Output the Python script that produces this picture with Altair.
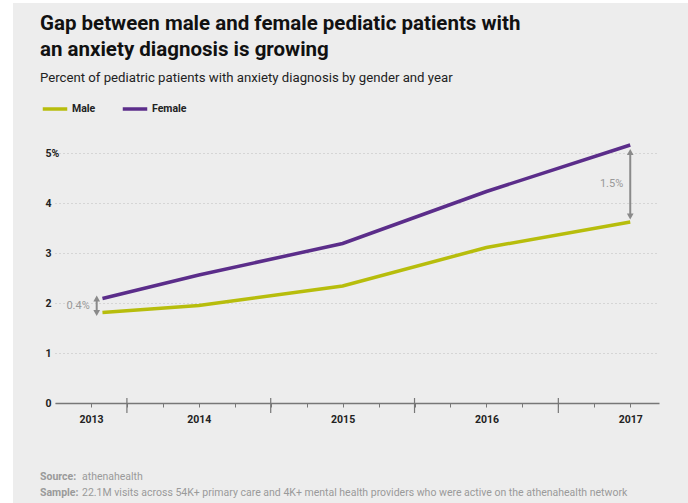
import altair as alt
import pandas as pd

# ---------------- data ----------------
years = ["2013", "2014", "2015", "2016", "2017"]
year_pos = [2013.33, 2014.0, 2015.0, 2016.0, 2017.0]   # position of each year's point on the timeline
male = [1.81, 1.95, 2.34, 3.11, 3.62]
female = [2.09, 2.56, 3.19, 4.23, 5.16]

label_pos = [2013.25, 2014.0, 2015.0, 2016.0, 2017.0]   # where the year labels sit
minor_ticks = [2013.25, 2013.5, 2013.75, 2014.0, 2014.25, 2014.5, 2014.75, 2015.0,
               2015.25, 2015.5, 2015.75, 2016.0, 2016.25, 2016.5, 2016.75, 2017.0]
major_ticks = [2013.5, 2014.5, 2015.5, 2016.5]
y_ticks = [0, 1, 2, 3, 4, 5]

gap_labels = ["0.4%", "1.5%"]
gap_pos = [2013.29, 2017.0]
gap_lo = [1.80, 3.73]
gap_hi = [2.09, 5.02]

title_lines = ["Gap between male and female pediatic patients with",
               "an anxiety diagnosis is growing"]
subtitle = "Percent of pediatric patients with anxiety diagnosis by gender and year"
source_bold = ["Source:", "Sample:"]
source_text = ["athenahealth",
               "22.1M visits across 54K+ primary care and 4K+ mental health providers who were active on the athenahealth network"]

MALE_C = "#b7bd0c"
FEMALE_C = "#5b2d8a"
GREY = "#8a8a8a"
FONT = "Roboto"

rows = []
for y, p, m, f in zip(years, year_pos, male, female):
    rows.append({"year": y, "pos": p, "series": "Male", "value": m})
    rows.append({"year": y, "pos": p, "series": "Female", "value": f})
df = pd.DataFrame(rows)

gap_df = pd.DataFrame({"label": gap_labels, "pos": gap_pos, "lo": gap_lo, "hi": gap_hi})
major_df = pd.DataFrame({"pos": major_ticks})
src_df = pd.DataFrame({"bold": source_bold, "text": source_text, "row": [0, 1]})
title_df = pd.DataFrame({"text": title_lines, "row": [0, 1]})
sub_df = pd.DataFrame({"text": [subtitle]})

xscale = alt.Scale(domain=[2013.0, 2017.2], nice=False, zero=False)
yscale = alt.Scale(domain=[0, 5], nice=False, zero=True)

lab_arr = "[" + ",".join(str(v) for v in label_pos) + "]"
yr_arr = "[" + ",".join("'%s'" % y for y in years) + "]"
x_label_expr = f"indexof({lab_arr}, datum.value) >= 0 ? {yr_arr}[indexof({lab_arr}, datum.value)] : ''"

# white margin strips (left and top) around the grey panel
one = pd.DataFrame({"a": [0]})
strip_left = alt.Chart(one).mark_rect(color="#ffffff").encode(
    x=alt.value(-56), x2=alt.value(-42), y=alt.value(-154), y2=alt.value(351)
)
strip_top = alt.Chart(one).mark_rect(color="#ffffff").encode(
    x=alt.value(-56), x2=alt.value(634), y=alt.value(-154), y2=alt.value(-150)
)

lines = alt.Chart(df).mark_line(strokeWidth=3.5).encode(
    x=alt.X("pos:Q", scale=xscale, title=None,
            axis=alt.Axis(values=minor_ticks, labelExpr=x_label_expr, grid=False,
                          domainColor="#777777", domainWidth=1.5, tickColor="#777777",
                          tickSize=4, tickWidth=1, labelFont=FONT, labelFontSize=10.5,
                          labelFontWeight="bold", labelColor="#222222", labelPadding=7,
                          labelOverlap=False, labelFlush=False)),
    y=alt.Y("value:Q", scale=yscale, title=None,
            axis=alt.Axis(values=y_ticks, labelExpr="datum.value == 5 ? '5%' : datum.label",
                          domain=False, ticks=False, grid=True, gridDash=[1, 3],
                          gridColor="#bdbdbd", gridWidth=1, labelAlign="left",
                          labelPadding=10, labelFont=FONT, labelFontSize=10.5,
                          labelFontWeight="bold", labelColor="#222222", labelFlush=False)),
    color=alt.Color("series:N",
                    scale=alt.Scale(domain=["Male", "Female"], range=[MALE_C, FEMALE_C]),
                    legend=alt.Legend(orient="none", legendX=-14, legendY=-58,
                                      direction="horizontal", title=None,
                                      symbolType="stroke", symbolSize=600,
                                      symbolStrokeWidth=3.5, labelFont=FONT,
                                      labelFontSize=10.5, labelFontWeight="bold",
                                      labelColor="#222222", labelOffset=3,
                                      columnPadding=19)),
    detail="series:N",
)

major = alt.Chart(major_df).mark_rule(color="#777777", strokeWidth=1.2).encode(
    x=alt.X("pos:Q", scale=xscale, title=None),
    y=alt.value(245), y2=alt.value(260),
)

arrow_rule = alt.Chart(gap_df).mark_rule(color=GREY, strokeWidth=2).encode(
    x=alt.X("pos:Q", scale=xscale, title=None),
    y=alt.Y("lo:Q", scale=yscale, title=None), y2="hi:Q",
)
arrow_up = alt.Chart(gap_df).mark_point(shape="triangle-up", filled=True, size=45,
                                        color=GREY, opacity=1).encode(
    x=alt.X("pos:Q", scale=xscale, title=None),
    y=alt.Y("hi:Q", scale=yscale, title=None),
)
arrow_down = alt.Chart(gap_df).mark_point(shape="triangle-down", filled=True, size=45,
                                          color=GREY, opacity=1).encode(
    x=alt.X("pos:Q", scale=xscale, title=None),
    y=alt.Y("lo:Q", scale=yscale, title=None),
)
gap_text = alt.Chart(gap_df).transform_calculate(mid="(datum.lo + datum.hi) / 2").mark_text(
    align="right", baseline="middle", dx=-7, font=FONT, fontSize=11, color="#999999"
).encode(
    x=alt.X("pos:Q", scale=xscale, title=None),
    y=alt.Y("mid:Q", scale=yscale, title=None),
    text="label:N",
)

title_txt = alt.Chart(title_df).transform_calculate(py="-123 + datum.row * 26").mark_text(
    align="left", baseline="alphabetic", font=FONT, fontSize=20.5, fontWeight="bold",
    color="#111111"
).encode(x=alt.value(-15), y=alt.Y("py:Q", scale=None), text="text:N")
sub_txt = alt.Chart(sub_df).mark_text(
    align="left", baseline="alphabetic", font=FONT, fontSize=13.2, color="#222222"
).encode(x=alt.value(-15), y=alt.value(-71), text="text:N")

src_bold = alt.Chart(src_df).transform_calculate(py="324 + datum.row * 16").mark_text(
    align="left", baseline="middle", font=FONT, fontSize=10.5, fontWeight="bold",
    color="#9a9a9a"
).encode(x=alt.value(-15), y=alt.Y("py:Q", scale=None), text="bold:N")
src_txt = alt.Chart(src_df).transform_calculate(py="324 + datum.row * 16").mark_text(
    align="left", baseline="middle", font=FONT, fontSize=10.5, color="#9a9a9a"
).encode(x=alt.value(27), y=alt.Y("py:Q", scale=None), text="text:N")

chart = alt.layer(strip_left, strip_top, lines, major, arrow_rule, arrow_up, arrow_down,
                  gap_text, title_txt, sub_txt, src_bold, src_txt).properties(
    width=604, height=250,
    autosize=alt.AutoSizeParams(type="none"),
    padding={"left": 55, "top": 153, "right": 29, "bottom": 100},
    background="#ededed",
).configure_view(stroke=None)

chart.save("out.html", embed_options={"renderer": "svg", "actions": False})
